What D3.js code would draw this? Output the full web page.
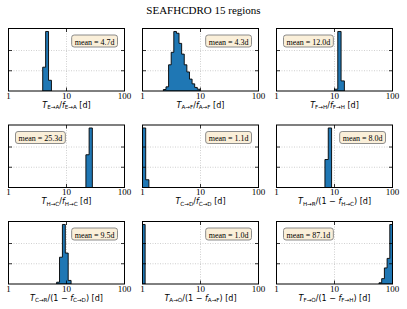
<!DOCTYPE html>
<html>
<head>
<meta charset="utf-8">
<script src="https://cdn.jsdelivr.net/npm/d3@7"></script>
<style>
  body { margin: 0; background: #fff; }
  svg { display: block; }
</style>
</head>
<body>
<div id="chart"></div>
<script>
// panel data, bins are uniform in log space between binLo and binHi
var tSub = ["E→A", "A→F", "F→H", "H→C", "C→D", "H→R", "C→R", "A→O", "F→O"];
var fSub = ["E→A", "A→F", "F→H", "H→C", "C→D", "H→C", "C→D", "A→F", "F→H"];
var oneMinus = [false, false, false, false, false, true, true, true, true];
var means = [4.7, 4.3, 12.0, 25.3, 1.1, 8.0, 9.5, 1.0, 87.1];
var binLo = [3.89, 2.29, 10.0, 21.6, 1.0, 6.84, 6.76, 1.0, 58.5];
var binHi = [5.50, 9.77, 14.8, 27.9, 1.29, 8.91, 12.0, 1.11, 100];
var counts = [
   [0.40, 1.0, 0.18],
   [0.025, 0.07, 0.44, 0.65, 1.0, 0.97, 0.80, 0.62, 0.44, 0.32, 0.20, 0.12, 0.06, 0.03],
   [0.03, 1.0, 0.17],
   [0.55, 1.0],
   [1.0, 0.13],
   [0.47, 1.0],
   [0.03, 0.45, 1.0, 0.52, 0.06],
   [1.0],
   [0.02, 0.09, 0.27, 0.43, 1.0]
];
var xTicks = [1, 10, 100];
var yTicks = [0.34, 0.68];

var svgWidth = 407;
var svgHeight = 309;
var panelW = 116;
var panelH = 62.5;
var left0 = 8.5, top0 = 28.5;
var colStep = 134, rowStep = 96.5;

var serif = "'Liberation Serif', 'DejaVu Serif', serif";
var sans = "'DejaVu Sans', sans-serif";

var svg = d3.select("#chart")
   .append("svg")
   .attr("width", svgWidth)
   .attr("height", svgHeight);

svg.append("text")
   .attr("x", 203.5)
   .attr("y", 14)
   .attr("text-anchor", "middle")
   .style("font-family", serif)
   .style("font-size", "11px")
   .text("SEAFHCDRO 15 regions");

var x = d3.scaleLog().domain([1, 100]).range([0, panelW]);
var y = d3.scaleLinear().domain([0, 1.05]).range([panelH, 0]);

means.forEach(function (mean, i) {
   var col = i % 3, row = Math.floor(i / 3);
   var g = svg.append("g")
      .attr("transform", `translate(${left0 + col * colStep}, ${top0 + row * rowStep})`);

   var clipId = "clip" + i;
   g.append("clipPath").attr("id", clipId)
      .append("rect").attr("width", panelW).attr("height", panelH);

   // grid
   g.selectAll(".hgrid").data(yTicks).enter().append("line")
      .attr("x1", 0).attr("x2", panelW)
      .attr("y1", d => y(d)).attr("y2", d => y(d))
      .attr("stroke", "#b0b0b0").attr("stroke-width", 0.6)
      .attr("stroke-dasharray", "1,1.5");
   g.append("line")
      .attr("x1", x(10)).attr("x2", x(10))
      .attr("y1", 0).attr("y2", panelH)
      .attr("stroke", "#b0b0b0").attr("stroke-width", 0.6)
      .attr("stroke-dasharray", "1,1.5");

   // histogram as a step outline
   var c = counts[i];
   var lLo = Math.log10(binLo[i]), lHi = Math.log10(binHi[i]);
   var edges = d3.range(c.length + 1).map(k => Math.pow(10, lLo + k * (lHi - lLo) / c.length));
   var pts = [[edges[0], 0]];
   c.forEach(function (v, k) {
      pts.push([edges[k], v]);
      pts.push([edges[k + 1], v]);
   });
   pts.push([edges[c.length], 0]);
   var line = d3.line().x(d => x(d[0])).y(d => y(d[1]));
   g.append("path")
      .attr("clip-path", `url(#${clipId})`)
      .attr("d", line(pts) + "Z")
      .attr("fill", "#1f77b4")
      .attr("stroke", "#000")
      .attr("stroke-width", 0.9)
      .attr("stroke-linejoin", "miter");

   // ticks (inward on all sides)
   g.selectAll(".ytl").data(yTicks).enter().append("line")
      .attr("x1", 0).attr("x2", 3.5)
      .attr("y1", d => y(d)).attr("y2", d => y(d))
      .attr("stroke", "#000").attr("stroke-width", 0.8);
   g.selectAll(".ytr").data(yTicks).enter().append("line")
      .attr("x1", panelW - 3.5).attr("x2", panelW)
      .attr("y1", d => y(d)).attr("y2", d => y(d))
      .attr("stroke", "#000").attr("stroke-width", 0.8);
   g.selectAll(".xtb").data([10]).enter().append("line")
      .attr("x1", d => x(d)).attr("x2", d => x(d))
      .attr("y1", panelH - 3.5).attr("y2", panelH)
      .attr("stroke", "#000").attr("stroke-width", 0.8);
   g.selectAll(".xtt").data([10]).enter().append("line")
      .attr("x1", d => x(d)).attr("x2", d => x(d))
      .attr("y1", 0).attr("y2", 3.5)
      .attr("stroke", "#000").attr("stroke-width", 0.8);

   // frame
   g.append("rect")
      .attr("width", panelW).attr("height", panelH)
      .attr("fill", "none").attr("stroke", "#000").attr("stroke-width", 1);

   // tick labels
   g.selectAll(".xl").data(xTicks).enter().append("text")
      .attr("x", d => x(d))
      .attr("y", panelH + 7.5)
      .attr("text-anchor", "middle")
      .style("font-family", serif)
      .style("font-size", "9px")
      .text(d => d);

   // axis label
   var lab = g.append("text")
      .attr("x", panelW / 2)
      .attr("y", panelH + 16.5)
      .attr("text-anchor", "middle")
      .style("font-family", sans)
      .style("font-size", "8px");
   lab.append("tspan").style("font-style", "italic").text("T");
   lab.append("tspan").attr("dy", 1.8).style("font-size", "5.6px").text(tSub[i]);
   lab.append("tspan").attr("dy", -1.8).text(oneMinus[i] ? "/(1 − " : "/");
   lab.append("tspan").style("font-style", "italic").text("f");
   lab.append("tspan").attr("dy", 1.8).style("font-size", "5.6px").text(fSub[i]);
   lab.append("tspan").attr("dy", -1.8).text((oneMinus[i] ? ")" : "") + " [d]");

   // mean box
   var bg = g.append("g");
   var txt = bg.append("text")
      .attr("y", 16)
      .style("font-family", serif)
      .style("font-size", "8px")
      .text(`mean = ${mean.toFixed(1)}d`);
   var tw = txt.node().getComputedTextLength();
   var bw = tw + 6, bh = 12;
   var bx = mean >= 10 ? 7 : panelW - 7 - bw;
   bg.insert("rect", "text")
      .attr("x", bx).attr("y", 6.5)
      .attr("width", bw).attr("height", bh)
      .attr("rx", 2.5).attr("ry", 2.5)
      .attr("fill", "#faefd9")
      .attr("stroke", "#808080")
      .attr("stroke-width", 0.9);
   txt.attr("x", bx + 3);
});
</script>
</body>
</html>
